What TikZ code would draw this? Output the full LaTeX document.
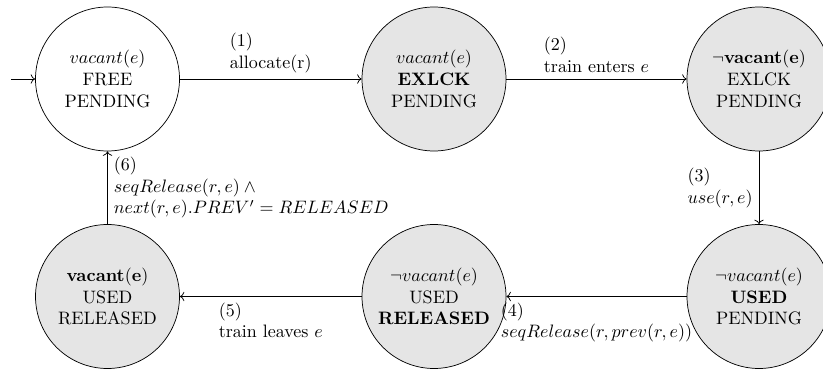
\documentclass[tikz,border=0pt]{standalone}
\usetikzlibrary{arrows.meta}
\begin{document}
\begin{tikzpicture}[x=0.5556pt,y=-0.5556pt,
  st/.style={circle,draw,minimum size=80pt,inner sep=0pt,align=center},
  used/.style={st,fill=gray!20},
  lbl/.style={align=left,midway}]
\useasboundingbox (0,0) rectangle (823,369);
\node[st]   (n1) at (107.5,79)  {$vacant(e)$\\FREE\\PENDING};
\node[used] (n2) at (434,79)    {$vacant(e)$\\\textbf{EXLCK}\\PENDING};
\node[used] (n3) at (759,79)    {$\neg\mathbf{vacant(e)}$\\EXLCK\\PENDING};
\node[used] (n4) at (759,296.5) {$\neg vacant(e)$\\\textbf{USED}\\PENDING};
\node[used] (n5) at (434,296.5) {$\neg vacant(e)$\\USED\\\textbf{RELEASED}};
\node[used] (n6) at (107.5,296.5) {$\mathbf{vacant(e)}$\\USED\\RELEASED};
\coordinate (init) at (11,79);
\draw[->] (init) -- (n1);
\draw[->] (n1) -- node[lbl,above] {(1)\\allocate(r)} (n2);
\draw[->] (n2) -- node[lbl,above] {(2)\\train enters $e$} (n3);
\draw[->] (n3) -- node[lbl,left] {(3)\\$use(r,e)$} (n4);
\draw[->] (n4) -- node[lbl,below] {(4)\\$seqRelease(r,prev(r,e))$} (n5);
\draw[->] (n5) -- node[lbl,below] {(5)\\train leaves $e$} (n6);
\draw[->] (n6) -- node[lbl,right] {(6)\\$seqRelease(r,e)\wedge{}$\\$next(r,e).PREV' = RELEASED$} (n1);
\end{tikzpicture}
\end{document}
